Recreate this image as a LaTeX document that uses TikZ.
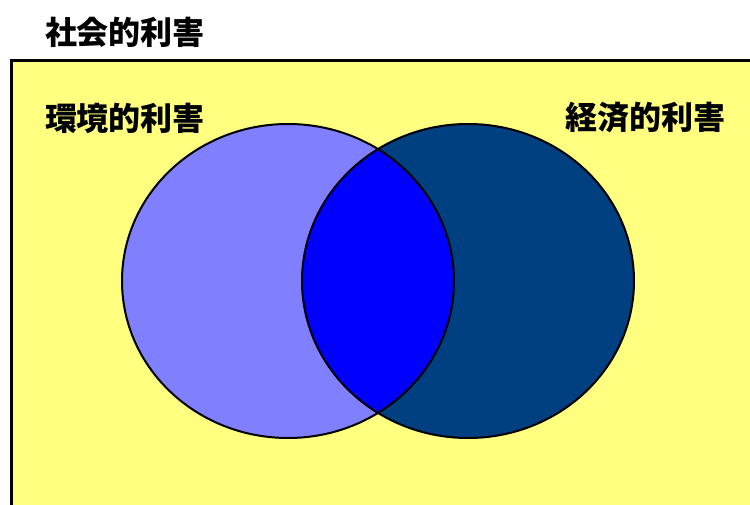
\documentclass[tikz,border=0pt]{standalone}
\usepackage{fontspec}
\newfontfamily\jpfont{Noto Sans CJK JP}
\usetikzlibrary{positioning}
\definecolor{societyyellow}{RGB}{255,255,128}
\definecolor{envblue}{RGB}{128,128,255}
\definecolor{econblue}{RGB}{0,64,128}
\definecolor{bothblue}{RGB}{0,0,255}
\begin{document}
\begin{tikzpicture}[x=1pt,y=-1pt]

\tikzset{venntext/.style={font=\jpfont\bfseries\fontsize{32}{32}\selectfont,inner sep=0pt},
vennset/.style={x radius=166,y radius=157}}

\useasboundingbox (0,0) rectangle (750,505);
\clip (0,0) rectangle (750,505);

% Society box
\fill[white] (0,0) rectangle (750,505);
\draw[line width=3pt,fill=societyyellow] (11.5,61) rectangle (770,525);
\node[venntext] (society) at (125,32) {社会的利害};

% Sets
\coordinate (env) at (288,281);
\coordinate (econ) at (468,281);
\fill[envblue] (env) ellipse [vennset];
\fill[econblue] (econ) ellipse [vennset];
\begin{scope}
\clip (env) ellipse [vennset];
\fill[bothblue] (econ) ellipse [vennset];
\end{scope}
\draw[line width=2pt] (env) ellipse [vennset];
\draw[line width=2pt] (econ) ellipse [vennset];

% Labels
\node[venntext] (envlabel) at (125,118) {環境的利害};
\node[venntext] (econlabel) at (645,118) {経済的利害};

\end{tikzpicture}
\end{document}
